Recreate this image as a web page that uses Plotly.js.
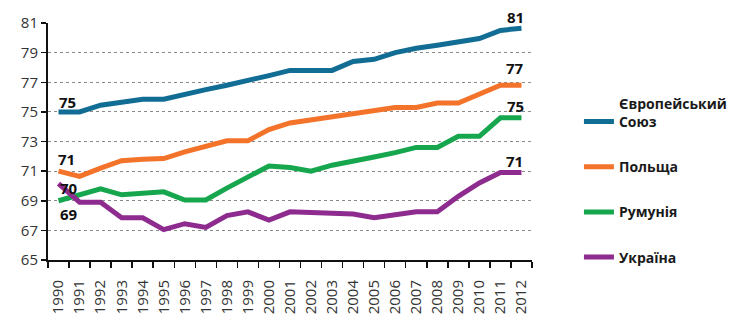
<!DOCTYPE html>
<html>
<head>
<meta charset="utf-8">
<script src="https://cdn.plot.ly/plotly-3.0.1.min.js"></script>
<style>html,body{margin:0;padding:0;background:#fff;}#chart{width:744px;height:325px;}</style>
</head>
<body>
<div id="chart"></div>
<script>
var years = ['1990','1991','1992','1993','1994','1995','1996','1997','1998','1999','2000','2001','2002','2003','2004','2005','2006','2007','2008','2009','2010','2011','2012'];
var seriesNames = ['Європейський<br>Союз', 'Польща', 'Румунія', 'Україна'];
var euValues = [75.0,75.0,75.45,75.65,75.85,75.85,76.2,76.5,76.8,77.1,77.45,77.8,77.8,77.8,78.4,78.55,79.0,79.3,79.5,79.75,79.95,80.5,80.65];
var polandValues = [71.0,70.65,71.2,71.7,71.8,71.85,72.3,72.7,73.05,73.05,73.8,74.25,74.45,74.65,74.9,75.1,75.3,75.3,75.6,75.6,76.2,76.8,76.8];
var romaniaValues = [69.0,69.4,69.8,69.4,69.5,69.6,69.05,69.05,69.85,70.6,71.35,71.25,71.0,71.4,71.65,71.95,72.25,72.6,72.6,73.35,73.35,74.6,74.6];
var ukraineValues = [70.15,68.9,68.9,67.85,67.85,67.05,67.45,67.2,68.0,68.25,67.7,68.25,68.2,68.15,68.1,67.85,68.05,68.25,68.25,69.3,70.2,70.9,70.9];
var startLabels = ['75','71','69','70'];
var endLabels = ['81','77','75','71'];
var yTicks = [65,67,69,71,73,75,77,79,81];

var colors = ['#126d95', '#f4732a', '#16a64e', '#8d2b8e'];
var allValues = [euValues, polandValues, romaniaValues, ukraineValues];

var traces = allValues.map(function(vals, i){
  return {
    x: years, y: vals, type: 'scatter', mode: 'lines',
    name: seriesNames[i], legendgroup: 'g' + i,
    line: {color: colors[i], width: 5}
  };
});

var labelFont = {family: 'Open Sans, sans-serif', size: 15, color: '#111'};
// start labels: next to first point, offsets in pixels
var startShift = [[9, 10], [8, 12], [10, -13], [10, -4]];
var annotations = [];
startLabels.forEach(function(t, i){
  annotations.push({x: 0, y: allValues[i][0], xref: 'x', yref: 'y', text: '<b>' + t + '</b>', showarrow: false,
    xshift: startShift[i][0], yshift: startShift[i][1], font: labelFont});
});
// end labels above last point
var endShift = [[-6, 11], [-6, 17], [-6, 12], [-7, 12]];
endLabels.forEach(function(t, i){
  var last = allValues[i].length - 1;
  annotations.push({x: last, y: allValues[i][last], xref: 'x', yref: 'y', text: '<b>' + t + '</b>', showarrow: false,
    xshift: endShift[i][0], yshift: endShift[i][1], font: labelFont});
});

var layout = {
  width: 744, height: 325,
  margin: {l: 48, r: 196, t: 23, b: 65},
  paper_bgcolor: '#fff', plot_bgcolor: '#fff',
  font: {family: 'Open Sans, sans-serif', color: '#222'},
  showlegend: true,
  legend: {
    x: 1.097, xanchor: 'left', y: 0.727, yanchor: 'top',
    font: {family: 'Open Sans, sans-serif', size: 14, color: '#1a1a1a', weight: 'bold'},
    traceorder: 'grouped', tracegroupgap: 24, valign: 'bottom',
    bgcolor: 'rgba(0,0,0,0)'
  },
  xaxis: {
    type: 'category', range: [-0.5, 22.5],
    tickangle: -90, tickson: 'boundaries', ticks: 'outside', ticklen: 6, tickwidth: 1.5, tickcolor: '#111',
    ticklabelstandoff: 12,
    showline: true, linecolor: '#111', linewidth: 2, showgrid: false,
    tickfont: {family: 'Open Sans, sans-serif', size: 15, color: '#333'},
    fixedrange: true
  },
  yaxis: {
    range: [65, 81], tickvals: yTicks, ticktext: yTicks.map(String),
    ticks: 'outside', ticklen: 5, tickwidth: 1.5, tickcolor: '#111',
    showline: true, linecolor: '#111', linewidth: 2,
    showgrid: true, gridcolor: '#8a8a8a', gridwidth: 1, griddash: 'dot',
    zeroline: false,
    tickfont: {family: 'Open Sans, sans-serif', size: 15, color: '#333'},
    fixedrange: true
  },
  annotations: annotations
};

Plotly.newPlot('chart', traces, layout, {displayModeBar: false, staticPlot: true});
</script>
</body>
</html>
